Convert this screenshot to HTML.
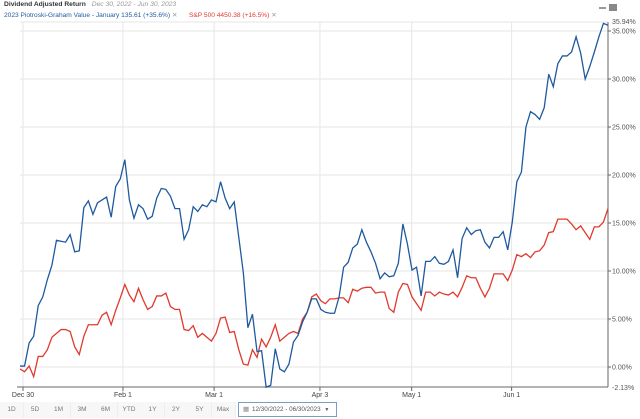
<!DOCTYPE html>
<html><head><meta charset="utf-8"><style>
body{margin:0;width:640px;height:419px;background:#fff;font-family:"Liberation Sans",sans-serif;overflow:hidden;position:relative}
.t{position:absolute;white-space:nowrap}
.btn{position:absolute;top:402px;height:16px;width:23px;font-size:6.5px;color:#777;text-align:center;line-height:16px;border-right:1px solid #eee;background:#f7f7f7}
</style></head><body>
<div class="t" style="left:4px;top:1px;font-size:6.7px;font-weight:bold;color:#333">Dividend Adjusted Return <span style="font-weight:normal;font-style:italic;color:#999;margin-left:4px">Dec 30, 2022 - Jun 30, 2023</span></div>
<div class="t" style="left:4px;top:11px;font-size:6.6px;color:#1f5a9e">2023 Piotroski-Graham Value - January 135.61 (+35.6%) <span style="color:#999">✕</span></div>
<div class="t" style="left:189px;top:11px;font-size:6.6px;color:#e03a2f">S&amp;P 500 4450.38 (+16.5%) <span style="color:#999">✕</span></div>
<svg id="c" width="640" height="419" style="position:absolute;left:0;top:0"></svg>
<div id="btns"></div>
<div style="position:absolute;left:238px;top:402px;width:97px;height:13px;border:1px solid #7a9cc6;font-size:6.3px;color:#555;line-height:13px;background:#fff;white-space:nowrap;overflow:hidden"><span style="color:#888;margin:0 3px 0 4px">▦</span>12/30/2022 - 06/30/2023 <span style="font-size:5px;margin-left:2px">▼</span></div>
<script>
const blue=[0.1,0.1,2.5,3.2,6.4,7.3,9.1,10.6,13.2,13.1,13.0,13.8,12.0,12.1,16.6,17.3,15.9,17.1,17.4,17.7,15.6,18.8,19.6,21.6,17.4,15.5,16.9,16.5,15.4,15.7,17.6,18.6,18.5,17.8,16.5,16.5,13.3,14.3,16.7,16.2,16.9,16.7,17.4,17.2,19.3,17.6,16.5,17.2,13.5,9.8,4.1,5.5,1.6,1.7,-2.1,-1.9,1.9,-0.2,-0.5,0.3,2.6,3.3,4.7,5.7,7.1,7.1,6.0,5.7,5.6,5.6,7.3,10.4,10.9,12.4,12.8,14.3,13.0,12.0,10.8,9.2,9.8,9.4,9.5,10.8,14.9,12.8,10.1,10.4,7.4,11.0,11.0,11.5,10.8,10.7,11.0,12.2,9.3,13.4,14.5,13.8,14.2,14.3,13.0,12.4,13.5,13.5,14.1,12.2,15.1,19.3,20.3,25.0,26.6,26.3,25.8,27.0,30.5,29.2,31.6,32.4,32.4,32.8,34.4,32.7,30.0,31.3,32.8,34.4,35.8,35.6];
const red=[-0.2,-0.5,0.1,-1.0,1.1,1.1,1.8,3.1,3.5,3.9,3.9,3.7,2.1,1.3,3.2,4.4,4.4,4.4,5.4,5.7,4.4,5.9,7.2,8.6,7.5,6.8,8.2,7.0,6.0,6.3,7.4,7.4,7.7,6.3,6.0,6.0,3.9,3.8,4.3,3.1,3.5,3.1,2.7,3.5,5.1,5.2,3.6,3.7,1.8,0.3,0.2,1.8,1.0,2.9,2.1,3.1,4.4,2.7,3.1,3.5,3.7,3.5,5.0,5.7,7.3,7.6,6.9,6.6,7.1,7.1,7.2,7.2,6.7,8.1,7.9,8.2,8.3,8.3,7.7,7.8,7.8,6.1,5.7,7.8,8.7,8.6,7.3,6.6,5.9,7.8,7.8,7.4,7.8,7.6,7.5,7.8,7.3,8.3,9.5,9.3,9.3,8.2,7.3,8.2,9.7,9.7,9.7,9.0,10.1,11.7,11.5,11.8,11.4,12.0,12.1,12.7,14.0,14.1,15.4,15.4,15.4,14.9,14.3,14.7,14.0,13.3,14.6,14.6,15.1,16.5];
const yTicks=[0,5,10,15,20,25,30,35];
const yLabels=["0.00%","5.00%","10.00%","15.00%","20.00%","25.00%","30.00%","35.00%"];
const xLabels=["Dec 30","Feb 1","Mar 1","Apr 3","May 1","Jun 1"];
const xLabelFrac=[0,0.17,0.325,0.505,0.661,0.831];
const ranges=["1D","5D","1M","3M","6M","YTD","1Y","2Y","5Y","Max"];
const L=20,R=608,T=22,B=387;
const ys=v=>367-9.6*v;
const xs=(i,n)=>L+(R-L)*i/(n-1);
const svg=document.getElementById('c'),NS='http://www.w3.org/2000/svg';
function mk(tag,a,p){const e=document.createElementNS(NS,tag);for(const k in a)e.setAttribute(k,a[k]);(p||svg).appendChild(e);return e;}
yTicks.forEach((v,i)=>{
 const g=mk('line',{x1:L,x2:R,y1:ys(v),y2:ys(v),stroke:'#e6e6e6','stroke-width':1});
 
 
 mk('line',{x1:R,x2:R+3,y1:ys(v),y2:ys(v),stroke:'#666'});
 const t=mk('text',{x:R+4,y:ys(v)+2.5,'font-size':7,fill:'#555'});t.textContent=yLabels[i];
 
 
});
xLabels.forEach((s,i)=>{
 const x=L+3+(R-L)*xLabelFrac[i];
 const g=mk('line',{x1:x,x2:x,y1:T,y2:B,stroke:'#e6e6e6'});
 
 
 mk('line',{x1:x,x2:x,y1:B,y2:B+4,stroke:'#666'});
 const t=mk('text',{x:x,y:397,'font-size':7,fill:'#444','text-anchor':'middle'});t.textContent=s;
 
 
});
mk('line',{x1:L,x2:R,y1:T,y2:T,stroke:'#e6e6e6'});
mk('line',{x1:L-3,x2:R,y1:B,y2:B,stroke:'#666'});
mk('line',{x1:R,x2:R,y1:T,y2:B,stroke:'#666'});
mk('text',{x:R+4,y:B+3,'font-size':7,fill:'#555'}).textContent='-2.13%';
mk('text',{x:R+4,y:24,'font-size':7,fill:'#555'}).textContent='35.94%';
mk('rect',{x:599,y:7,width:7,height:2,fill:'#999'});
mk('rect',{x:609,y:4,width:8,height:7,fill:'#888'});
function line(d,c,name){
 const p=mk('polyline',{points:d.map((v,i)=>xs(i,d.length)+','+ys(v)).join(' '),fill:'none',stroke:c,'stroke-width':1.3});
 
 
}
line(red,'#e03a2f','sp500-line');
line(blue,'#1f5a9e','piotroski-line');
const bd=document.getElementById('btns');
ranges.forEach((r,i)=>{
 const b=document.createElement('div');b.className='btn';b.style.left=(i*23.5)+'px';b.textContent=r;
 
 
 bd.appendChild(b);
});
</script>
</body></html>
